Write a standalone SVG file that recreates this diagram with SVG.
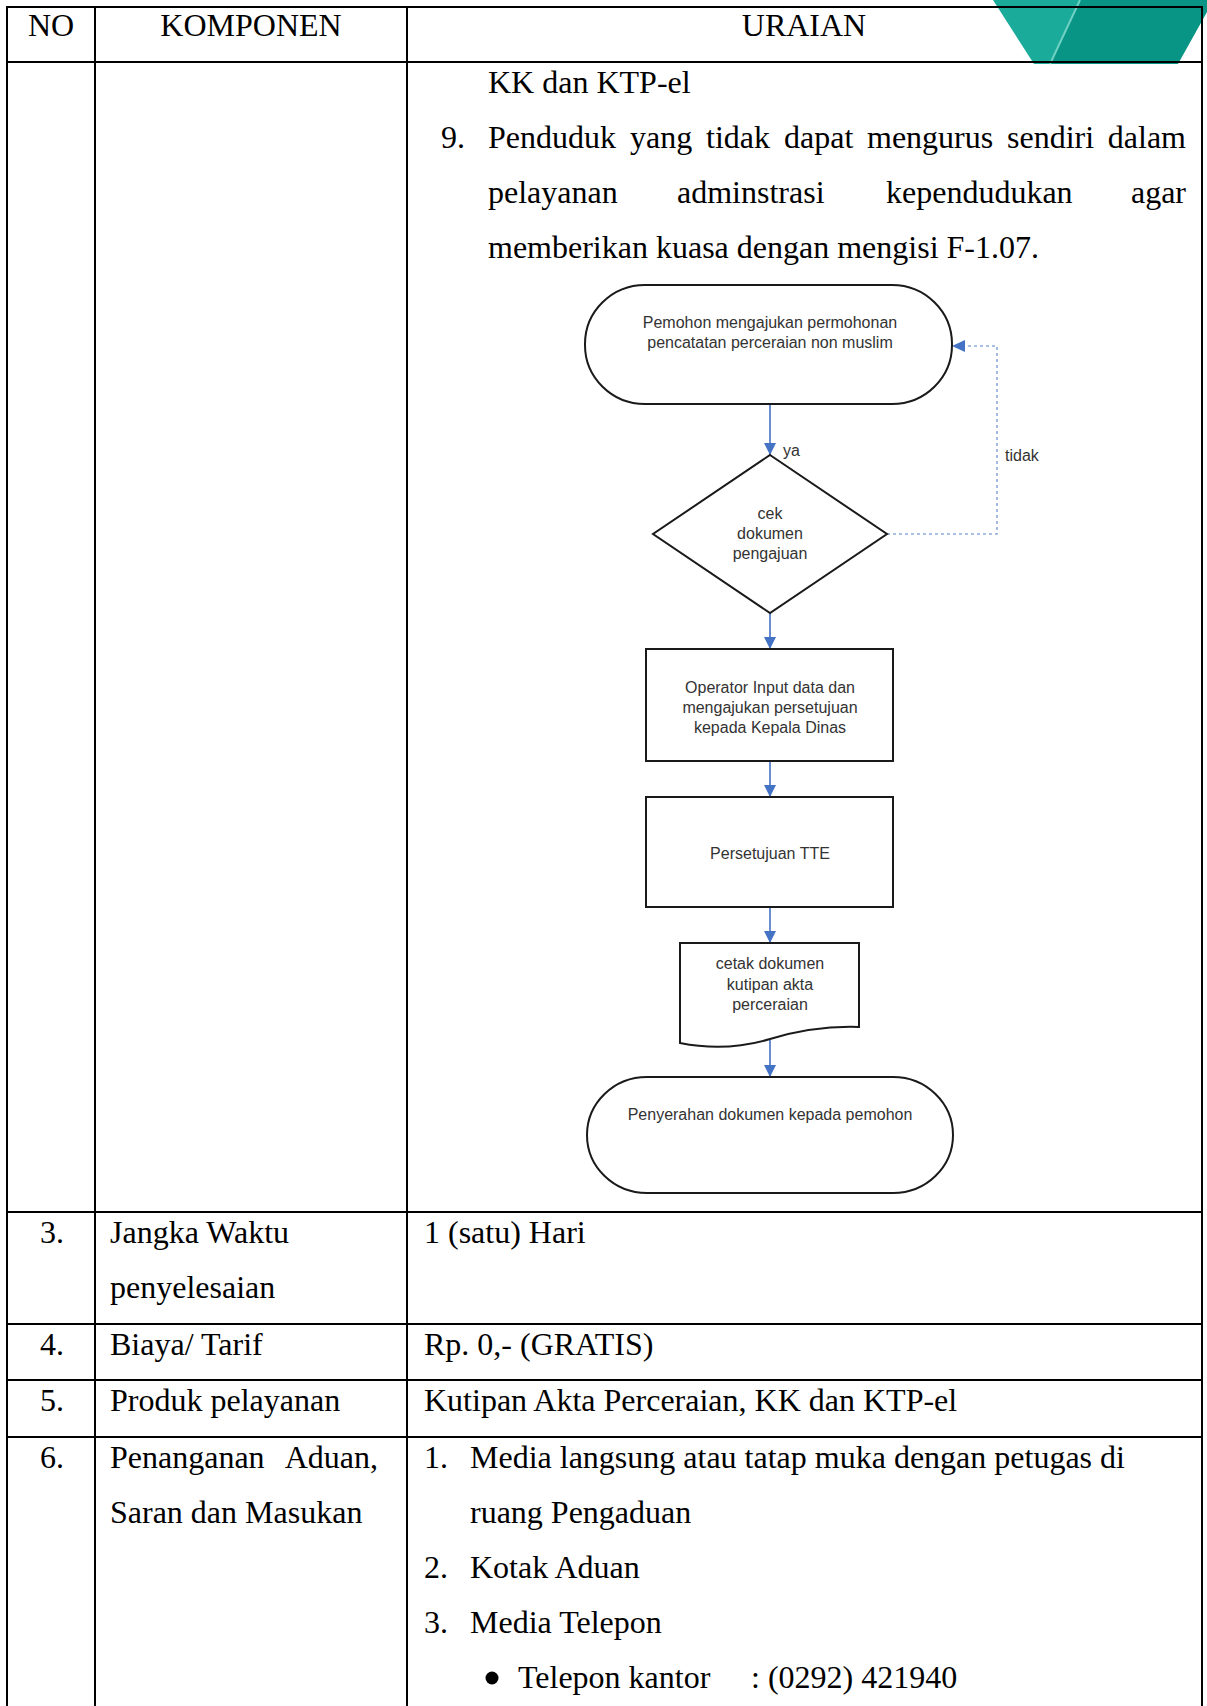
<svg xmlns="http://www.w3.org/2000/svg" width="1207" height="1706" viewBox="0 0 1207 1706">
  <style>
    .grid { stroke: #000; stroke-width: 2; fill: none; }
    .t { font-family: "Liberation Serif", "Times New Roman", serif; font-size: 32px; fill: #000; }
    .fc { font-family: "Liberation Sans", Arial, sans-serif; font-size: 16px; fill: #333; text-anchor: middle; }
    .lbl { font-family: "Liberation Sans", Arial, sans-serif; font-size: 16px; fill: #333; }
    .shape { fill: #fff; stroke: #1a1a1a; stroke-width: 2; }
    .flow { stroke: #4472c4; stroke-width: 1.6; fill: none; }
    .back { stroke: #8eaadb; stroke-width: 1.6; fill: none; stroke-dasharray: 3 3; }
  </style>
  <defs>
    <marker id="arrow" viewBox="0 0 10 10" refX="10" refY="5" markerWidth="13" markerHeight="12" markerUnits="userSpaceOnUse" orient="auto">
      <path d="M0,0 L10,5 L0,10 z" fill="#4472c4"/>
    </marker>
  </defs>

  <rect width="1207" height="1706" fill="#fff"/>

  <!-- corner ornament -->
  <g id="ornament">
    <polygon points="993,0 1080,0 1050,64 1034,64" fill="#1aab9b"/>
    <polygon points="1080,0 1207,0 1207,12 1178,64 1050,64" fill="#089585"/>
    <line x1="1080" y1="0" x2="1050" y2="64" stroke="#6fd0c4" stroke-width="2"/>
  </g>

  <!-- table rules -->
  <g id="table">
    <line class="grid" x1="7" y1="7" x2="1202" y2="7"/>
    <line class="grid" x1="7" y1="62" x2="1202" y2="62"/>
    <line class="grid" x1="7" y1="1212" x2="1202" y2="1212"/>
    <line class="grid" x1="7" y1="1324" x2="1202" y2="1324"/>
    <line class="grid" x1="7" y1="1380" x2="1202" y2="1380"/>
    <line class="grid" x1="7" y1="1437" x2="1202" y2="1437"/>
    <line class="grid" x1="7" y1="6" x2="7" y2="1706"/>
    <line class="grid" x1="95" y1="6" x2="95" y2="1706"/>
    <line class="grid" x1="407" y1="6" x2="407" y2="1706"/>
    <line class="grid" x1="1202" y1="6" x2="1202" y2="1706"/>
  </g>

  <!-- header -->
  <g id="header">
    <text class="t" x="51" y="36" text-anchor="middle">NO</text>
    <text class="t" x="251" y="36" text-anchor="middle">KOMPONEN</text>
    <text class="t" x="804" y="36" text-anchor="middle">URAIAN</text>
  </g>

  <!-- row 2 continued: procedure text -->
  <g id="row2-text">
    <text class="t" x="488" y="93">KK dan KTP-el</text>
    <text class="t" x="441" y="148">9.</text>
    <text class="t" y="148"><tspan x="488">Penduduk</tspan><tspan x="630">yang</tspan><tspan x="706">tidak</tspan><tspan x="784">dapat</tspan><tspan x="867">mengurus</tspan><tspan x="1007">sendiri</tspan></text>
    <text class="t" x="1186" y="148" text-anchor="end">dalam</text>
    <text class="t" y="203"><tspan x="488">pelayanan</tspan><tspan x="677">adminstrasi</tspan><tspan x="886">kependudukan</tspan></text>
    <text class="t" x="1186" y="203" text-anchor="end">agar</text>
    <text class="t" x="488" y="258">memberikan kuasa dengan mengisi F-1.07.</text>
  </g>

  <!-- flowchart connectors -->
  <g id="connectors">
    <line class="flow" x1="770" y1="404" x2="770" y2="455" marker-end="url(#arrow)"/>
    <line class="flow" x1="770" y1="613" x2="770" y2="649" marker-end="url(#arrow)"/>
    <line class="flow" x1="770" y1="761" x2="770" y2="797" marker-end="url(#arrow)"/>
    <line class="flow" x1="770" y1="907" x2="770" y2="943" marker-end="url(#arrow)"/>
    <line class="flow" x1="770" y1="1040" x2="770" y2="1077" marker-end="url(#arrow)"/>
    <polyline class="back" points="887,534 997,534 997,346 954,346"/>
    <path d="M952,346 L965,340 L965,352 z" fill="#4472c4"/>
    <text class="lbl" x="783" y="456">ya</text>
    <text class="lbl" x="1005" y="461">tidak</text>
  </g>

  <!-- flowchart nodes -->
  <g id="start">
    <rect class="shape" x="585" y="285" width="367" height="119" rx="60" ry="59"/>
    <text class="fc" x="770" y="328">Pemohon mengajukan permohonan</text>
    <text class="fc" x="770" y="348">pencatatan perceraian non muslim</text>
  </g>

  <g id="check">
    <polygon class="shape" points="770,455 887,534 770,613 653,534"/>
    <text class="fc" x="770" y="519">cek</text>
    <text class="fc" x="770" y="539">dokumen</text>
    <text class="fc" x="770" y="559">pengajuan</text>
  </g>

  <g id="input">
    <rect class="shape" x="646" y="649" width="247" height="112"/>
    <text class="fc" x="770" y="693">Operator Input data dan</text>
    <text class="fc" x="770" y="713">mengajukan persetujuan</text>
    <text class="fc" x="770" y="733">kepada Kepala Dinas</text>
  </g>

  <g id="approval">
    <rect class="shape" x="646" y="797" width="247" height="110"/>
    <text class="fc" x="770" y="859">Persetujuan TTE</text>
  </g>

  <g id="print">
    <path class="shape" d="M680,943 H859 V1027 C830,1026 800,1030 770,1039 C740,1048 710,1049 680,1043 Z"/>
    <text class="fc" x="770" y="969">cetak dokumen</text>
    <text class="fc" x="770" y="990">kutipan akta</text>
    <text class="fc" x="770" y="1010">perceraian</text>
  </g>

  <g id="finish">
    <rect class="shape" x="587" y="1077" width="366" height="116" rx="60" ry="58"/>
    <text class="fc" x="770" y="1120">Penyerahan dokumen kepada pemohon</text>
  </g>

  <!-- rows 3 to 6 -->
  <g id="row3">
    <text class="t" x="40" y="1243">3.</text>
    <text class="t" x="110" y="1243">Jangka Waktu</text>
    <text class="t" x="110" y="1298">penyelesaian</text>
    <text class="t" x="424" y="1243">1 (satu) Hari</text>
  </g>
  <g id="row4">
    <text class="t" x="40" y="1355">4.</text>
    <text class="t" x="110" y="1355">Biaya/ Tarif</text>
    <text class="t" x="424" y="1355">Rp. 0,- (GRATIS)</text>
  </g>
  <g id="row5">
    <text class="t" x="40" y="1411">5.</text>
    <text class="t" x="110" y="1411">Produk pelayanan</text>
    <text class="t" x="424" y="1411">Kutipan Akta Perceraian, KK dan KTP-el</text>
  </g>
  <g id="row6">
    <text class="t" x="40" y="1468">6.</text>
    <text class="t" x="110" y="1468">Penanganan</text>
    <text class="t" x="378" y="1468" text-anchor="end">Aduan,</text>
    <text class="t" x="110" y="1523">Saran dan Masukan</text>
    <text class="t" x="424" y="1468">1.</text>
    <text class="t" x="470" y="1468">Media langsung atau tatap muka dengan petugas di</text>
    <text class="t" x="470" y="1523">ruang Pengaduan</text>
    <text class="t" x="424" y="1578">2.</text>
    <text class="t" x="470" y="1578">Kotak Aduan</text>
    <text class="t" x="424" y="1633">3.</text>
    <text class="t" x="470" y="1633">Media Telepon</text>
    <circle cx="492" cy="1678" r="6.5" fill="#000"/>
    <text class="t" x="518" y="1688">Telepon kantor</text>
    <text class="t" x="751" y="1688">: (0292) 421940</text>
  </g>
</svg>
